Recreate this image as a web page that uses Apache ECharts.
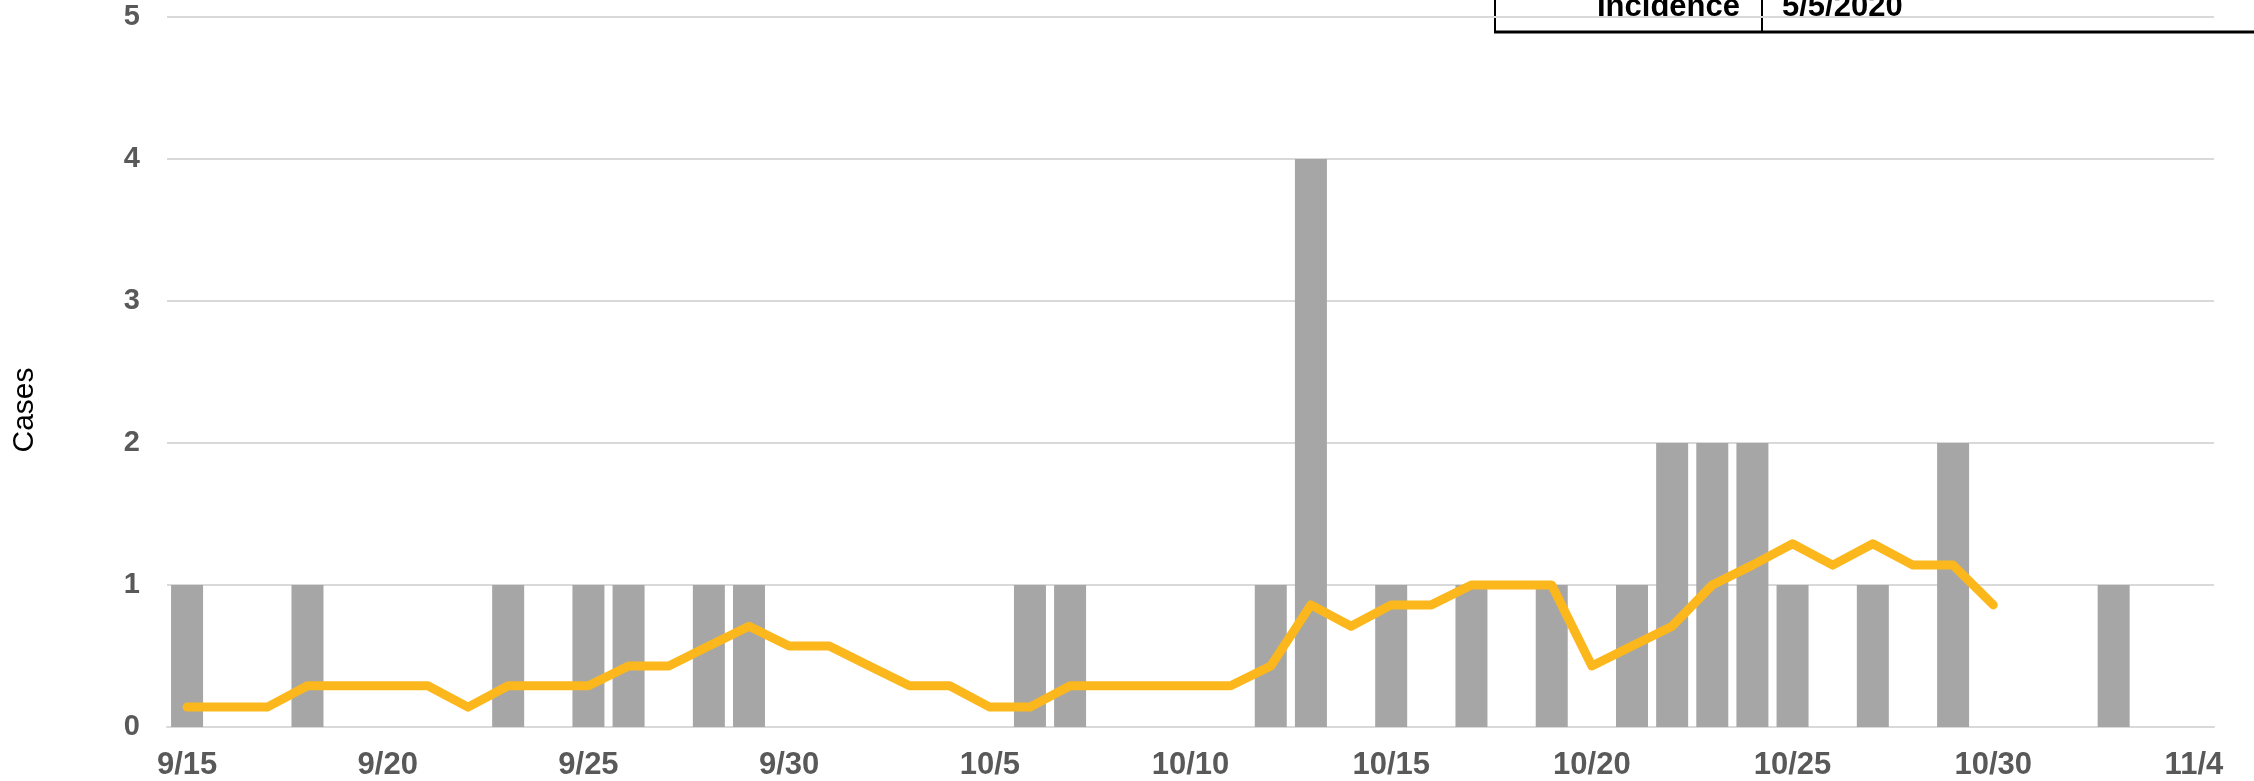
<!DOCTYPE html>
<html>
<head>
<meta charset="utf-8">
<script src="https://cdn.jsdelivr.net/npm/echarts@6/dist/echarts.min.js"></script>
<style>
  html, body { margin: 0; padding: 0; background: #fff; }
  #chart { width: 2254px; height: 781px; }
</style>
</head>
<body>
<div id="chart"></div>
<script>
// days 9/15 .. 11/4
const dates = [
  '9/15', '9/16', '9/17', '9/18', '9/19', '9/20', '9/21', '9/22', '9/23', '9/24',
  '9/25', '9/26', '9/27', '9/28', '9/29', '9/30', '10/1', '10/2', '10/3', '10/4',
  '10/5', '10/6', '10/7', '10/8', '10/9', '10/10', '10/11', '10/12', '10/13', '10/14',
  '10/15', '10/16', '10/17', '10/18', '10/19', '10/20', '10/21', '10/22', '10/23', '10/24',
  '10/25', '10/26', '10/27', '10/28', '10/29', '10/30', '10/31', '11/1', '11/2', '11/3',
  '11/4'
];

// daily case counts
const cases = [
  1, 0, 0, 1, 0, 0, 0, 0, 1, 0,
  1, 1, 0, 1, 1, 0, 0, 0, 0, 0,
  0, 1, 1, 0, 0, 0, 0, 1, 4, 0,
  1, 0, 1, 0, 1, 0, 1, 2, 2, 2,
  1, 0, 1, 0, 2, 0, 0, 0, 1, 0,
  0
];

// moving average line, ends at 10/30
const movingAvg = [
  0.14, 0.14, 0.14, 0.29, 0.29, 0.29, 0.29, 0.14, 0.29, 0.29,
  0.29, 0.43, 0.43, 0.57, 0.71, 0.57, 0.57, 0.43, 0.29, 0.29,
  0.14, 0.14, 0.29, 0.29, 0.29, 0.29, 0.29, 0.43, 0.86, 0.71,
  0.86, 0.86, 1.0, 1.0, 1.0, 0.43, 0.57, 0.71, 1.0, 1.14,
  1.29, 1.14, 1.29, 1.14, 1.14, 0.86, null, null, null, null,
  null
];

const yTicks = [0, 5, 1];

const FONT = '"Liberation Sans", Arial, sans-serif';

const chart = echarts.init(document.getElementById('chart'));

chart.setOption({
  animation: false,
  grid: { left: 167, right: 40, top: 17, bottom: 54, containLabel: false },
  xAxis: {
    type: 'category',
    data: dates,
    boundaryGap: true,
    axisLine: { show: true, lineStyle: { color: '#d9d9d9', width: 2 } },
    axisTick: { show: false },
    axisLabel: {
      interval: 4,
      margin: 23,
      fontFamily: FONT,
      fontWeight: 'bold',
      fontSize: 31,
      color: '#595959'
    },
    splitLine: { show: false }
  },
  yAxis: {
    type: 'value',
    min: yTicks[0],
    max: yTicks[1],
    interval: yTicks[2],
    axisLine: { show: false },
    axisTick: { show: false },
    axisLabel: {
      margin: 27,
      fontFamily: FONT,
      fontWeight: 'bold',
      fontSize: 29,
      color: '#595959'
    },
    splitLine: { lineStyle: { color: '#d9d9d9', width: 2 } }
  },
  series: [
    {
      name: 'Cases',
      type: 'bar',
      data: cases,
      barWidth: 32,
      itemStyle: { color: '#a6a6a6' }
    },
    {
      name: 'Moving average',
      type: 'line',
      data: movingAvg,
      showSymbol: false,
      symbol: 'none',
      connectNulls: false,
      lineStyle: { color: '#fcb71d', width: 9, cap: 'round', join: 'round' },
      z: 3
    }
  ],
  graphic: [
    {
      type: 'text', x: 25, y: 410, rotation: Math.PI / 2,
      style: {
        text: 'Cases', fill: '#000', align: 'center', verticalAlign: 'middle',
        font: '30px ' + FONT
      }
    },
    // bottom row of the info table, cut off at the top edge
    { type: 'line', shape: { x1: 1495, y1: 0, x2: 1495, y2: 32 }, style: { stroke: '#000', lineWidth: 2 } },
    { type: 'line', shape: { x1: 1762, y1: 0, x2: 1762, y2: 32 }, style: { stroke: '#000', lineWidth: 2 } },
    { type: 'line', shape: { x1: 1494, y1: 32, x2: 2254, y2: 32 }, style: { stroke: '#000', lineWidth: 3 } },
    {
      type: 'text', x: 1740, y: 7,
      style: {
        text: 'Incidence', fill: '#000', align: 'right', verticalAlign: 'middle',
        font: 'bold 31px ' + FONT
      }
    },
    {
      type: 'text', x: 1782, y: 7,
      style: {
        text: '5/5/2020', fill: '#000', align: 'left', verticalAlign: 'middle',
        font: 'bold 31px ' + FONT
      }
    }
  ]
});
</script>
</body>
</html>
